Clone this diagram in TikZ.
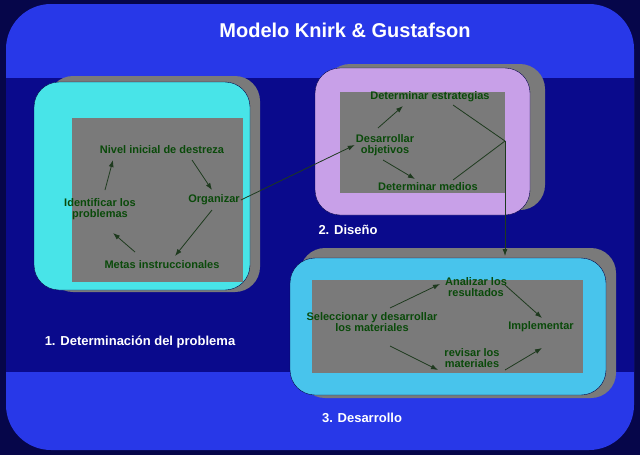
\documentclass[tikz,border=0pt]{standalone}
\usepackage{fontspec}
\setmainfont{Liberation Sans}
\usetikzlibrary{arrows.meta}
\definecolor{navy}{HTML}{0A0A8C}
\definecolor{outer}{HTML}{2838E8}
\definecolor{frame}{HTML}{06064A}
\definecolor{cyanA}{HTML}{48E4E8}
\definecolor{purp}{HTML}{C8A0E8}
\definecolor{cyanB}{HTML}{48C4EC}
\definecolor{gr}{HTML}{7A7A7A}
\definecolor{txt}{HTML}{0A4A0A}
\definecolor{arrc}{HTML}{1E3A1E}
\tikzset{
 lbl/.style={font=\bfseries\fontsize{11}{11.5}\selectfont, text=txt, align=center, inner sep=1pt},
 captxt/.style={font=\bfseries\fontsize{13}{14}\selectfont, text=white},
 arr/.style={draw=arrc, line width=0.8pt, -{Latex[length=7pt,width=5pt]}},
 ln/.style={draw=arrc, line width=0.8pt},
}
\begin{document}
\begin{tikzpicture}[x=1pt,y=-1pt]
\fill[frame] (0,0) rectangle (640,455);
\fill[outer, rounded corners=45] (6,4) rectangle (634,450);
\fill[navy] (6,78) rectangle (634,372);
\node[font=\bfseries\fontsize{20}{22}\selectfont, text=white] (title) at (345,30) {Modelo Knirk \& Gustafson};
% box 1
\fill[gr, rounded corners=25] (48,76) rectangle (260,292);
\draw[fill=cyanA, rounded corners=25, draw=frame] (34,82) rectangle (250,290);
\fill[gr] (72,118) rectangle (243,282);
\node[lbl] (niv) at (162,150) {Nivel inicial de destreza};
\node[lbl] (ide) at (100,209) {Identificar los\\problemas};
\node[lbl] (org) at (214,200) {Organizar};
\node[lbl] (met) at (162,265) {Metas instruccionales};
\draw[arr] (105,190) -- (113,160);
\draw[arr] (192,160) -- (212,190);
\draw[arr] (212,210) -- (175,256);
\draw[arr] (135,252) -- (113,233);
\node[captxt] (c1) at (140,342) {1. Determinación del problema};
% box 2
\fill[gr, rounded corners=25] (325,64) rectangle (545,210);
\draw[fill=purp, rounded corners=25, draw=frame] (315,68) rectangle (530,215);
\fill[gr] (340,92) rectangle (505,193);
\node[lbl] (est) at (430,97) {Determinar estrategias};
\node[lbl] (des) at (385,145) {Desarrollar\\objetivos};
\node[lbl] (med) at (428,187) {Determinar medios};
\coordinate (j) at (505,141);
\draw[arr] (378,128) -- (403,106);
\draw[arr] (383,160) -- (415,179);
\draw[ln] (453,105) -- (j) -- (453,180);
\draw[arr] (org.east) -- (des.west);
\node[captxt] (c2) at (348,230) {2. Diseño};
% box 3
\fill[gr, rounded corners=25] (300,248) rectangle (616,398);
\draw[fill=cyanB, rounded corners=25, draw=frame] (290,258) rectangle (606,395);
\fill[gr] (312,280) rectangle (583,373);
\coordinate (k) at (505,256);
\draw[arr] (j) -- (k);
\node[lbl] (ana) at (476,287) {Analizar los\\resultados};
\node[lbl] (sel) at (372,322) {Seleccionar y desarrollar\\los materiales};
\node[lbl] (imp) at (541,327) {Implementar};
\node[lbl] (rev) at (472,358) {revisar los\\materiales};
\draw[arr] (390,308) -- (440,284);
\draw[arr] (505,285) -- (542,318);
\draw[arr] (390,346) -- (438,370);
\draw[arr] (505,370) -- (542,348);
\node[captxt] (c3) at (362,418) {3. Desarrollo};
\end{tikzpicture}
\end{document}
